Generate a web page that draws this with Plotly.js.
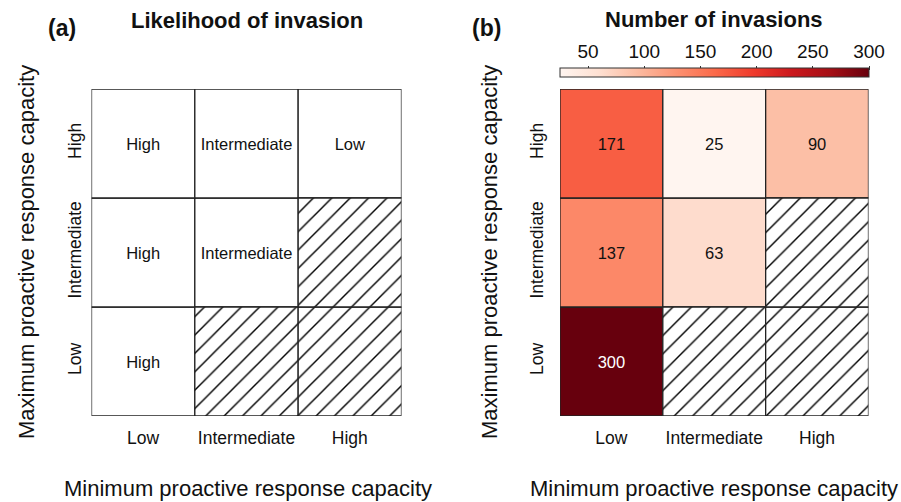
<!DOCTYPE html>
<html><head><meta charset="utf-8">
<script src="https://cdn.plot.ly/plotly-3.0.1.min.js"></script>
<style>html,body{margin:0;padding:0;background:#fff}</style>
</head><body><div id="chart" style="width:901px;height:502px"></div>
<script>
// Category levels (index 0..2 on both axes)
const levels = ['Low', 'Intermediate', 'High'];

// Panel (a): likelihood of invasion, rows = max capacity, columns = min capacity
const likelihoodRowLow = ['High', null, null];
const likelihoodRowIntermediate = ['High', 'Intermediate', null];
const likelihoodRowHigh = ['High', 'Intermediate', 'Low'];

// Panel (b): number of invasions
const invasionsRowLow = [300, null, null];
const invasionsRowIntermediate = [137, 63, null];
const invasionsRowHigh = [171, 25, 90];

// Colour scale
const colorRange = [25, 300];
const colorbarTicks = [50, 100, 150, 200, 250, 300];
const redsScale = [[0, '#fff5f0'], [0.125, '#fee0d2'], [0.25, '#fcbba1'], [0.375, '#fc9272'],
  [0.5, '#fb6a4a'], [0.625, '#ef3b2c'], [0.75, '#cb181d'], [0.875, '#a50f15'], [1, '#67000d']];

const W = 901, H = 502;
const FONT = 'Liberation Sans, Arial, sans-serif';
const px = v => v / W, py = v => 1 - v / H;

function splitCells(rows) {
  const filled = {x: [], base: [], v: []}, hatched = {x: [], base: []};
  rows.forEach((row, r) => row.forEach((v, c) => {
    if (v === null) { hatched.x.push(c); hatched.base.push(r - 0.5); }
    else { filled.x.push(c); filled.base.push(r - 0.5); filled.v.push(v); }
  }));
  return {filled, hatched};
}

const lineStyle = {color: '#222', width: 1.3};
const hatchPattern = {shape: '/', size: 13, solidity: 0.11, fgcolor: '#000', bgcolor: 'white', fillmode: 'replace'};

const A = splitCells([likelihoodRowLow, likelihoodRowIntermediate, likelihoodRowHigh]);
const B = splitCells([invasionsRowLow, invasionsRowIntermediate, invasionsRowHigh]);

const traces = [
  {type: 'bar', xaxis: 'x', yaxis: 'y', x: A.filled.x, base: A.filled.base, y: A.filled.x.map(() => 1),
   width: 1, text: A.filled.v, textposition: 'inside', insidetextanchor: 'middle', textangle: 0,
   textfont: {family: FONT, size: 16.5, color: '#111'}, marker: {color: 'white', line: lineStyle},
   cliponaxis: false, hoverinfo: 'skip', showlegend: false},
  {type: 'bar', xaxis: 'x', yaxis: 'y', x: A.hatched.x, base: A.hatched.base, y: A.hatched.x.map(() => 1),
   width: 1, marker: {color: 'white', pattern: hatchPattern, line: lineStyle},
   cliponaxis: false, hoverinfo: 'skip', showlegend: false},
  {type: 'bar', xaxis: 'x2', yaxis: 'y2', x: B.filled.x, base: B.filled.base, y: B.filled.x.map(() => 1),
   width: 1, text: B.filled.v, textposition: 'inside', insidetextanchor: 'middle', textangle: 0,
   insidetextfont: {family: FONT, size: 16.5, color: B.filled.v.map(v => v > 250 ? 'white' : '#111')},
   marker: {color: B.filled.v, colorscale: redsScale, cmin: colorRange[0], cmax: colorRange[1], line: lineStyle,
     showscale: true,
     colorbar: {orientation: 'h', x: px(714.5), xanchor: 'center', y: py(78), yanchor: 'bottom',
       len: 309, lenmode: 'pixels', thickness: 9, thicknessmode: 'pixels', xpad: 0, ypad: 0,
       outlinewidth: 1, outlinecolor: '#333', showticklabels: false, ticks: '', borderwidth: 0}},
   cliponaxis: false, hoverinfo: 'skip', showlegend: false},
  {type: 'bar', xaxis: 'x2', yaxis: 'y2', x: B.hatched.x, base: B.hatched.base, y: B.hatched.x.map(() => 1),
   width: 1, marker: {color: 'white', pattern: hatchPattern, line: lineStyle},
   cliponaxis: false, hoverinfo: 'skip', showlegend: false},
  // invisible carrier so the colour-scale tick axis is drawn
  {type: 'scatter', xaxis: 'x3', yaxis: 'y3', x: colorRange, y: [0.5, 0.5], mode: 'markers',
   marker: {opacity: 0}, hoverinfo: 'skip', showlegend: false}
];

const cellAxisX = (dom) => ({domain: dom, range: [-0.5, 2.5], tickvals: [0, 1, 2], ticktext: levels,
  ticks: '', showgrid: false, zeroline: false, showline: false, fixedrange: true,
  tickfont: {family: FONT, size: 17.5, color: '#111'}, ticklabelstandoff: 9});
const cellAxisY = (standoff) => ({domain: [py(416), py(89)], range: [-0.5, 2.5], tickvals: [0, 1, 2], ticktext: levels,
  tickangle: -90, ticks: '', showgrid: false, zeroline: false, showline: false, fixedrange: true,
  tickfont: {family: FONT, size: 17.5, color: '#111'}, ticklabelstandoff: standoff});

const ann = (text, x, y, size, bold, angle) => ({text: bold ? '<b>' + text + '</b>' : text, x: px(x), y: py(y),
  xref: 'paper', yref: 'paper', xanchor: 'center', yanchor: 'middle', showarrow: false, textangle: angle || 0,
  font: {family: FONT, size: size, color: '#111'}});

const layout = {
  width: W, height: H, margin: {l: 0, r: 0, t: 0, b: 0}, paper_bgcolor: 'white', plot_bgcolor: 'white',
  barmode: 'overlay', font: {family: FONT, color: '#111'},
  xaxis: Object.assign(cellAxisX([px(91.5), px(401.5)]), {anchor: 'y'}),
  yaxis: Object.assign(cellAxisY(6), {anchor: 'x'}),
  xaxis2: Object.assign(cellAxisX([px(560), px(868.5)]), {anchor: 'y2'}),
  yaxis2: Object.assign(cellAxisY(13), {anchor: 'x2'}),
  xaxis3: {domain: [px(560), px(869)], range: colorRange, anchor: 'y3', side: 'top', tickmode: 'array', tickvals: colorbarTicks,
    ticktext: colorbarTicks.map(String), showticklabels: true,
    ticks: 'outside', ticklen: 4, tickcolor: '#333', showgrid: false, zeroline: false, showline: false, fixedrange: true,
    tickfont: {family: FONT, size: 19, color: '#111'}, ticklabelstandoff: 0},
  yaxis3: {domain: [py(78), py(71)], range: [0, 1], anchor: 'x3', showticklabels: false, showgrid: false,
    zeroline: false, showline: false, ticks: '', fixedrange: true},
  annotations: [
    ann('(a)', 62, 28, 23, true),
    ann('Likelihood of invasion', 247, 21, 22, true),
    ann('(b)', 486, 28, 23, true),
    ann('Number of invasions', 714, 20, 22, true),
    ann('Maximum proactive response capacity', 26, 252, 22, false, -90),
    ann('Maximum proactive response capacity', 489, 252, 22, false, -90),
    ann('Minimum proactive response capacity', 247.5, 488, 22, false),
    ann('Minimum proactive response capacity', 713.5, 488, 22, false)
  ]
};

Plotly.newPlot('chart', traces, layout, {staticPlot: true, displayModeBar: false});
</script></body></html>
